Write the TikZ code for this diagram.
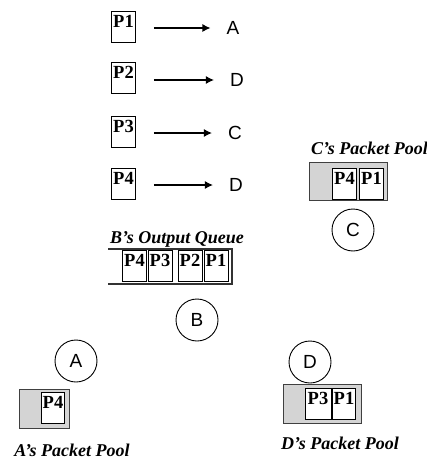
\documentclass[tikz,border=0pt]{standalone}
\usepackage{fontspec}
\setmainfont{Liberation Serif}
\setsansfont{Liberation Sans}
\usetikzlibrary{arrows.meta}

\tikzset{
  pkt/.style={draw, fill=white, line width=0.8pt, inner xsep=1.5pt, inner ysep=2pt,
    text height=14pt, text depth=13pt, minimum width=24pt,
    font=\bfseries\fontsize{18.5}{18.5}\selectfont},
  pool/.style={draw=black!75, fill=black!17, line width=1pt, inner sep=0pt},
  host/.style={draw, circle, line width=0.9pt, minimum size=42pt, inner sep=0pt,
    font=\sffamily\fontsize{19}{19}\selectfont},
  dest/.style={inner sep=0pt, font=\sffamily\fontsize{19}{19}\selectfont},
  caption/.style={inner sep=0pt, font=\bfseries\itshape\fontsize{18}{18}\selectfont},
  route/.style={line width=1.2pt, -{Latex[length=8pt,width=8pt]}},
  queueline/.style={line width=1.4pt, black!80}
}

\begin{document}
\begin{tikzpicture}[x=1pt, y=-1pt]
\useasboundingbox (0,0) rectangle (427,460);

% routing table: packet -> destination
\node[pkt] (t1) at (123.5,27) {P1};
\node[pkt] (t2) at (123.5,78) {P2};
\node[pkt] (t3) at (123.5,131.5) {P3};
\node[pkt] (t4) at (123.5,183.5) {P4};

\node[dest] (d1) at (233,28) {A};
\node[dest] (d2) at (237,80) {D};
\node[dest] (d3) at (235,133) {C};
\node[dest] (d4) at (236,185) {D};

\foreach \i in {1,...,4}
  \draw[route, shorten <=18pt, shorten >=16pt]
    (t\i.east |- d\i.center) -- (d\i.west |- d\i.center);

% B's output queue
\node[caption, anchor=base] (qlabel) at (177,243) {B’s Output Queue};
\coordinate (qtl) at (108,249);
\coordinate (qtr) at (232,249);
\coordinate (qbl) at (108,284);
\coordinate (qbr) at (232,284);
\draw[queueline] (qtl) -- (qtr) -- (qbr) -- (qbl);
\node[pkt] (q4) at (134.5,266) {P4};
\node[pkt] (q3) at (160,266) {P3};
\node[pkt] (q2) at (190,266) {P2};
\node[pkt] (q1) at (216,266) {P1};
\node[host] (B) at (197,320) {B};

% C's packet pool
\node[caption, anchor=base west] (clabel) at (311,154) {C’s Packet Pool};
\node[pool, minimum width=78pt, minimum height=38pt] (cpool) at (348,181) {};
\node[pkt, anchor=south] (c4) at (344.5,200) {P4};
\node[pkt, anchor=south] (c1) at (371.5,200) {P1};
\node[host] (C) at (353,230) {C};

% A's packet pool
\node[host] (A) at (76,361) {A};
\node[pool, minimum width=50pt, minimum height=39pt] (apool) at (44,408.5) {};
\node[pkt, minimum width=21pt] (a4) at (53,408) {P4};
\node[caption, anchor=base] (alabel) at (72,456) {A’s Packet Pool};

% D's packet pool
\node[host] (D) at (310,362) {D};
\node[pool, minimum width=78pt, minimum height=39pt] (dpool) at (322,403.5) {};
\node[pkt, minimum width=26pt] (d3p) at (318,403.5) {P3};
\node[pkt, minimum width=22pt] (d1p) at (344,403.5) {P1};
\node[caption, anchor=base] (dlabel) at (340,449) {D’s Packet Pool};
\end{tikzpicture}
\end{document}
